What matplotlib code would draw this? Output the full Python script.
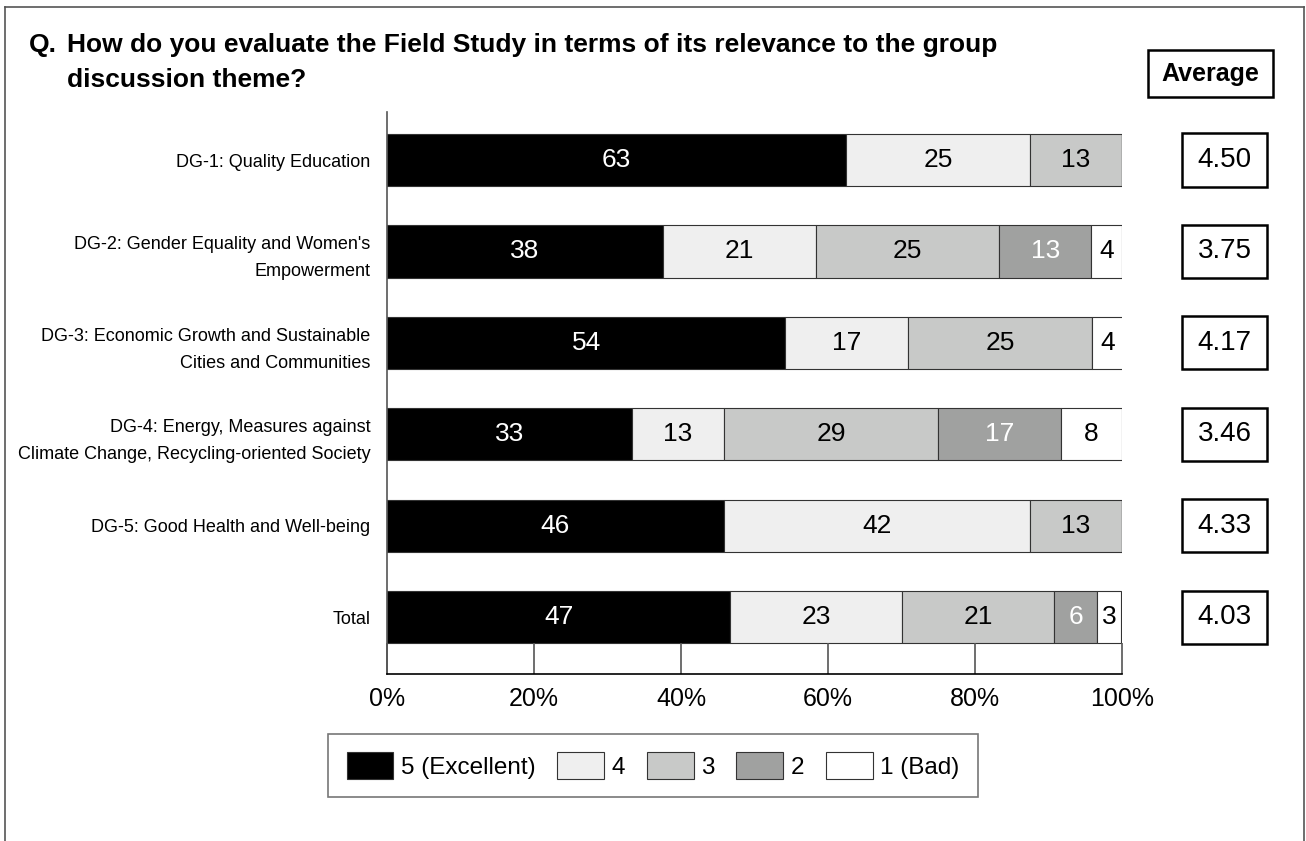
# stacked bar of field study relevance ratings per discussion group
import numpy as np
import matplotlib.pyplot as plt
from matplotlib.patches import Rectangle
from matplotlib.lines import Line2D
from matplotlib.transforms import blended_transform_factory

categories = ['DG-1: Quality Education',
              "DG-2: Gender Equality and Women's\nEmpowerment",
              'DG-3: Economic Growth and Sustainable\nCities and Communities',
              'DG-4: Energy, Measures against\nClimate Change, Recycling-oriented Society',
              'DG-5: Good Health and Well-being',
              'Total']
score_5 = [62.5, 37.5, 54.2, 33.3, 45.8, 46.7]
score_4 = [25.0, 20.8, 16.7, 12.5, 41.7, 23.3]
score_3 = [12.5, 25.0, 25.0, 29.2, 12.5, 20.8]
score_2 = [0.0, 12.5, 0.0, 16.7, 0.0, 5.8]
score_1 = [0.0, 4.2, 4.2, 8.3, 0.0, 3.3]
averages = ['4.50', '3.75', '4.17', '3.46', '4.33', '4.03']
legend_labels = ['5 (Excellent)', '4', '3', '2', '1 (Bad)']
ticks = [0, 20, 40, 60, 80, 100]

colors = ['#000000', '#efefef', '#c8c9c8', '#a0a1a0', '#ffffff']
text_colors = ['white', 'black', 'black', 'white', 'black']

plt.rcParams['font.family'] = ['Liberation Sans', 'DejaVu Sans']

W, H = 1306, 841
fig = plt.figure(figsize=(W/100, H/100), dpi=100)
ax = fig.add_axes([387/W, 1-674/H, 735/W, (674-112)/H])

y = np.arange(len(categories))
left = np.zeros(len(categories))
series = [score_5, score_4, score_3, score_2, score_1]
handles = []
for vals, c, tc, lab in zip(series, colors, text_colors, legend_labels):
    vals = np.array(vals)
    bars = ax.barh(y, vals, left=left, height=0.57, color=c,
                   edgecolor='#333333', linewidth=0.8, label=lab)
    handles.append(bars)
    for yi, l, v in zip(y, left, vals):
        if v > 0:
            ax.text(l + v/2, yi, str(int(v + 0.5)), ha='center', va='center',
                    fontsize=19, color=tc)
    left = left + vals

ax.set_xlim(0, 100)
ax.set_ylim(5.62, -0.525)
ax.set_xticks(ticks)
ax.set_xticklabels(['{}%'.format(t) for t in ticks], fontsize=18)
ax.tick_params(axis='x', direction='in', length=22, width=1.2, color='#555555', pad=9)
ax.set_yticks(y)
ax.set_yticklabels(categories, fontsize=13, linespacing=1.75)
ax.tick_params(axis='y', length=0, pad=12)
for s in ['top', 'right']:
    ax.spines[s].set_visible(False)
ax.spines['left'].set_color('#555555')
ax.spines['left'].set_linewidth(1.2)
ax.spines['bottom'].set_linewidth(1.2)

# average boxes on the right
tr = blended_transform_factory(fig.transFigure, ax.transData)
bw = 85/W
for yi, a in zip(y, averages):
    ax.add_patch(Rectangle((1224.5/W - bw/2, yi - 0.29), bw, 0.58, transform=tr,
                           fill=False, edgecolor='black', linewidth=1.8, clip_on=False))
    ax.text(1224.5/W, yi, a, transform=tr, ha='center', va='center', fontsize=20)

fig.add_artist(Rectangle((1148/W, 1-97/H), 125/W, 47/H, fill=False,
                         edgecolor='black', linewidth=1.8))
fig.text(1210.5/W, 1-73.5/H, 'Average', ha='center', va='center',
         fontsize=18, fontweight='bold')

# title
fig.text(29/W, 1-52/H, 'Q.', ha='left', va='baseline', fontsize=19, fontweight='bold')
fig.text(67/W, 1-52/H, 'How do you evaluate the Field Study in terms of its relevance to the group',
         ha='left', va='baseline', fontsize=19, fontweight='bold')
fig.text(67/W, 1-87/H, 'discussion theme?', ha='left', va='baseline',
         fontsize=19, fontweight='bold')

# outer frame
fc = '#555555'
fig.add_artist(Line2D([5/W, 5/W], [0, 1-7/H], color=fc, linewidth=1.2))
fig.add_artist(Line2D([5/W, 1304/W], [1-7/H, 1-7/H], color=fc, linewidth=1.2))
fig.add_artist(Line2D([1304/W, 1304/W], [0, 1-7/H], color=fc, linewidth=1.2))

leg = fig.legend(handles=handles, loc='center', bbox_to_anchor=(653/W, 1-765.5/H),
                 ncol=5, fontsize=17.5, frameon=True, fancybox=False,
                 handlelength=1.93, handleheight=1.32, handletextpad=0.3,
                 columnspacing=0.9, borderpad=0.75)
leg.get_frame().set_edgecolor('#555555')
leg.get_frame().set_linewidth(1.2)

fig.savefig('out.png', dpi=100)
